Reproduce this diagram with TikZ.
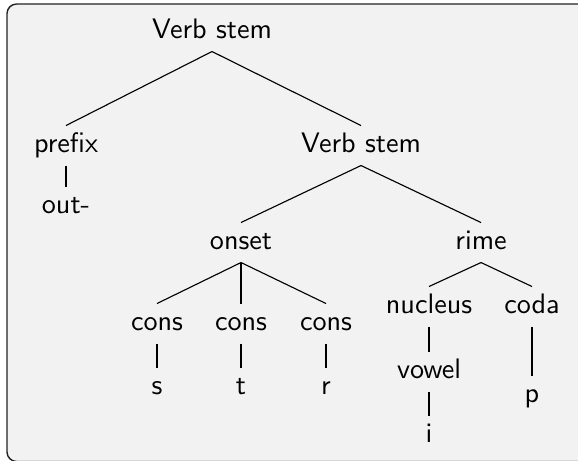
\documentclass[tikz,border=0pt]{standalone}
\definecolor{panelbg}{HTML}{F2F2F2}
\definecolor{panelrule}{HTML}{222222}
\begin{document}
\begin{tikzpicture}[x=0.355pt, y=-0.355pt,
  lbl/.style={font=\sffamily, inner sep=2pt, text height=7.2pt, text depth=2.6pt, anchor=base},
  branch/.style={draw=black, line width=0.4pt}]
\useasboundingbox (0,0) rectangle (578,460);
% framed panel, running off the right and bottom edges
\filldraw[fill=panelbg, draw=panelrule, line width=0.5pt, rounded corners=3.4pt] (7,4) rectangle (592,461.5);

% nodes (placed on their baselines)
\node[lbl] (vs1) at (212,38) {Verb stem};
\node[lbl] (prefix) at (66,152) {prefix};
\node[lbl] (out) at (66,213) {out-};
\node[lbl] (vs2) at (361,152) {Verb stem};
\node[lbl] (onset) at (241,249) {onset};
\node[lbl] (rime) at (481,249) {rime};
\node[lbl] (c1) at (157,330) {cons};
\node[lbl] (c2) at (241,330) {cons};
\node[lbl] (c3) at (326,330) {cons};
\node[lbl] (s) at (157,394) {s};
\node[lbl] (t) at (241,394) {t};
\node[lbl] (r) at (326,394) {r};
\node[lbl] (nucleus) at (429,313) {nucleus};
\node[lbl] (coda) at (532,313) {coda};
\node[lbl] (vowel) at (429,378) {vowel};
\node[lbl] (p) at (532,402) {p};
\node[lbl] (i) at (429,442) {i};

% branches
\draw[branch] (vs1.south) -- (prefix.north);
\draw[branch] (vs1.south) -- (vs2.north);
\draw[branch] (prefix.south) -- (out.north);
\draw[branch] (vs2.south) -- (onset.north);
\draw[branch] (vs2.south) -- (rime.north);
\draw[branch] (onset.south) -- (c1.north);
\draw[branch] (onset.south) -- (c2.north);
\draw[branch] (onset.south) -- (c3.north);
\draw[branch] (c1.south) -- (s.north);
\draw[branch] (c2.south) -- (t.north);
\draw[branch] (c3.south) -- (r.north);
\draw[branch] (rime.south) -- (nucleus.north);
\draw[branch] (rime.south) -- (coda.north);
\draw[branch] (nucleus.south) -- (vowel.north);
\draw[branch] (vowel.south) -- (i.north);
\draw[branch] (coda.south) -- (p.north);
\end{tikzpicture}
\end{document}
